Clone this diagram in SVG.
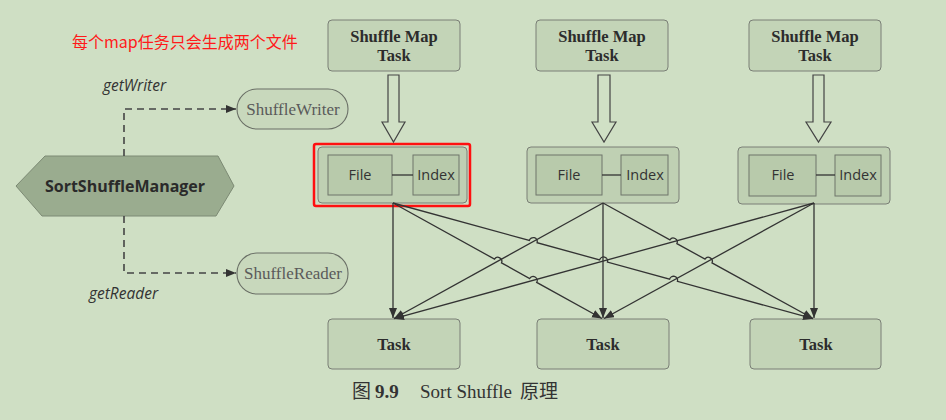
<svg xmlns="http://www.w3.org/2000/svg" width="946" height="420" viewBox="0 0 946 420">
<defs>
<marker id="ah" markerUnits="userSpaceOnUse" markerWidth="11" markerHeight="9" refX="10" refY="4" orient="auto"><path d="M0,0 L10,4 L0,8 z" fill="#333"/></marker>
<style>
.box{fill:#c3d4b7;stroke:#7a7f76;stroke-width:1}
.cont{fill:#bfd0b3;stroke:#7a7f76;stroke-width:1}
.inner{fill:#b8caab;stroke:#6f746b;stroke-width:1}
.hollow{fill:#d0e0c5;stroke:#444;stroke-width:1.2}
.pill{fill:#c8d8bc;stroke:#6a6f66;stroke-width:1.1}
.t{font-family:"Liberation Serif",serif;font-weight:bold;font-size:16.5px;fill:#2c2c2c;text-anchor:middle}
.s{font-family:"Open Sans","Liberation Sans",sans-serif;font-size:14.5px;fill:#333;text-anchor:middle}
.serif{font-family:"Liberation Serif",serif;font-size:17px;fill:#5a5a5a;text-anchor:middle}
.it{font-family:"Open Sans","Liberation Sans",sans-serif;font-style:italic;font-size:15.5px;fill:#333}
.ln{fill:none;stroke:#333;stroke-width:1.3;marker-end:url(#ah)}
.dash{fill:none;stroke:#444;stroke-width:1.6;stroke-dasharray:7,5;marker-end:url(#ah)}
</style>
</defs>
<rect width="946" height="420" fill="#cfdfc4"/>

<text x="72" y="48" font-family="'Noto Sans CJK SC',sans-serif" font-size="16" fill="#ff1a1a">每个map任务只会生成两个文件</text>

<g id="manager">
<polygon points="16,186 45,156 218,156 234,186 216,216 42,216" fill="#9aac8f" stroke="#7c8a74" stroke-width="1"/>
<text x="125" y="192" font-family="'Open Sans','Liberation Sans',sans-serif" font-weight="bold" font-size="16" fill="#2a2a2a" text-anchor="middle">SortShuffleManager</text>
</g>

<g id="shuffleWriter">
<rect class="pill" x="237" y="89" width="111" height="40" rx="20"/>
<text class="serif" x="293" y="115">ShuffleWriter</text>
</g>
<g id="shuffleReader">
<rect class="pill" x="237" y="253" width="111" height="41" rx="20"/>
<text class="serif" x="293" y="279">ShuffleReader</text>
</g>

<g id="map1">
<rect class="box" x="328" y="20" width="132" height="51" rx="4"/>
<text class="t" x="394" y="42">Shuffle Map</text>
<text class="t" x="394" y="61">Task</text>
</g>
<g id="map2">
<rect class="box" x="536" y="20" width="132" height="51" rx="4"/>
<text class="t" x="602" y="42">Shuffle Map</text>
<text class="t" x="602" y="61">Task</text>
</g>
<g id="map3">
<rect class="box" x="749" y="20" width="132" height="51" rx="4"/>
<text class="t" x="815" y="42">Shuffle Map</text>
<text class="t" x="815" y="61">Task</text>
</g>

<g id="files1">
<rect class="cont" x="318" y="147" width="149" height="56" rx="4"/>
<rect class="inner" x="328" y="155" width="64" height="40"/>
<rect class="inner" x="413" y="155" width="46" height="40"/>
<line x1="392" y1="175" x2="413" y2="175" stroke="#333" stroke-width="1.3"/>
<text class="s" x="360" y="180">File</text>
<text class="s" x="436" y="180">Index</text>
<rect x="314" y="144" width="156" height="62" rx="2" fill="none" stroke="#ff1010" stroke-width="2.5"/>
</g>
<g id="files2">
<rect class="cont" x="527" y="147" width="152" height="56" rx="4"/>
<rect class="inner" x="536" y="155" width="66" height="40"/>
<rect class="inner" x="621" y="155" width="47" height="40"/>
<line x1="602" y1="175" x2="621" y2="175" stroke="#333" stroke-width="1.3"/>
<text class="s" x="569" y="180">File</text>
<text class="s" x="645" y="180">Index</text>
</g>
<g id="files3">
<rect class="cont" x="738" y="147" width="152" height="57" rx="4"/>
<rect class="inner" x="749" y="155" width="67" height="41"/>
<rect class="inner" x="835" y="155" width="46" height="41"/>
<line x1="816" y1="175" x2="835" y2="175" stroke="#333" stroke-width="1.3"/>
<text class="s" x="783" y="180">File</text>
<text class="s" x="858" y="180">Index</text>
</g>

<g id="task1">
<rect class="box" x="328" y="319" width="132" height="50" rx="4"/>
<text class="t" x="394" y="350">Task</text>
</g>
<g id="task2">
<rect class="box" x="537" y="319" width="132" height="50" rx="4"/>
<text class="t" x="603" y="350">Task</text>
</g>
<g id="task3">
<rect class="box" x="750" y="319" width="131" height="50" rx="4"/>
<text class="t" x="816" y="350">Task</text>
</g>

<g id="connectors">
<polygon class="hollow" points="388,75 399,75 399,122 405,122 393.5,142 382,122 388,122"/>
<polygon class="hollow" points="598,75 610,75 610,122 616,122 604,142 592,122 598,122"/>
<polygon class="hollow" points="813,75 824,75 824,122 831,122 818.5,142 806,122 813,122"/>

<path class="dash" d="M124,156 V109 H236"/>
<path class="dash" d="M124,216 V273 H236"/>

<path class="ln" d="M393,203 V318"/>
<path class="ln" d="M393,203 L494.5,259.1 A4,4 0 0 1 501.5,262.9 L529.7,278.5 A4,4 0 0 1 536.7,282.4 L602,318.5"/>
<path class="ln" d="M393,203 L529.3,240.5 A4,4 0 0 1 537.1,242.7 L599.6,259.9 A4,4 0 0 1 607.4,262.1 L669.6,279.2 A4,4 0 0 1 677.4,281.4 L813,318.7"/>
<path class="ln" d="M603,203 L394,318.5"/>
<path class="ln" d="M603,203 V318"/>
<path class="ln" d="M603,203 L669.9,239.8 A4,4 0 0 1 676.9,243.6 L705,259.1 A4,4 0 0 1 712,262.9 L813,318.5"/>
<path class="ln" d="M814,203 L394,318.7"/>
<path class="ln" d="M814,203 L604,318.5"/>
<path class="ln" d="M814,203 V318"/>
</g>

<text class="it" x="103" y="91">getWriter</text>
<text class="it" x="89" y="299">getReader</text>

<text y="398" font-family="'Liberation Serif','Noto Sans CJK SC',serif" font-size="19" fill="#333"><tspan x="352" font-family="'Noto Sans CJK SC',sans-serif">图</tspan><tspan x="375" font-weight="bold">9.9</tspan><tspan x="420">Sort Shuffle</tspan><tspan x="520" font-family="'Noto Sans CJK SC',sans-serif">原理</tspan></text>
</svg>
